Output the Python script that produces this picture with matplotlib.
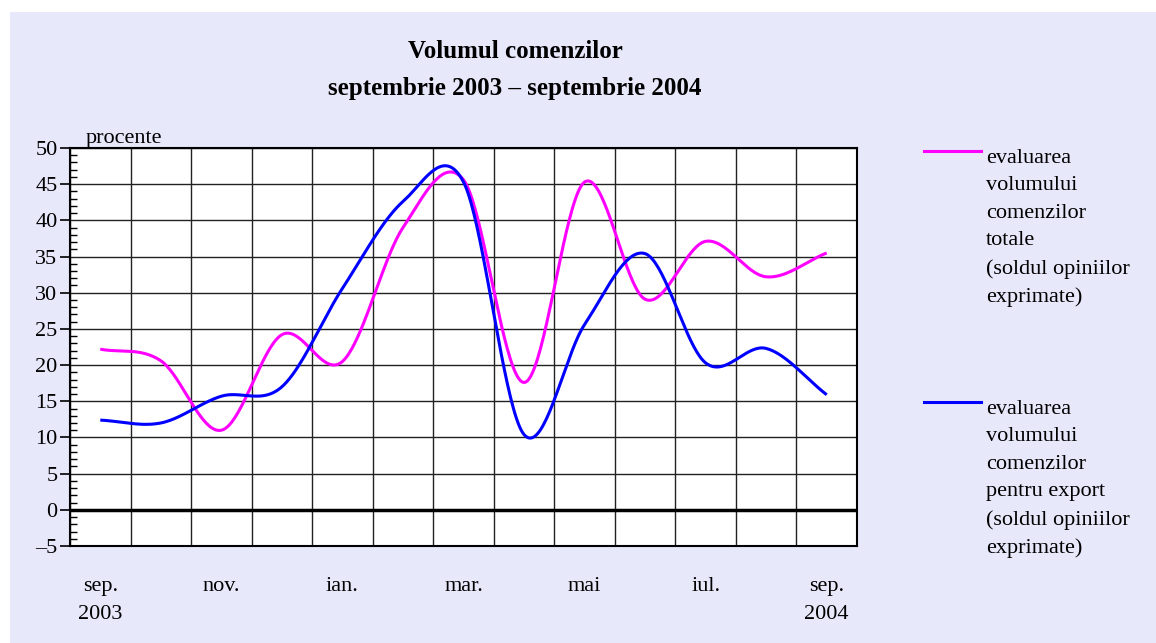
import numpy as np
import matplotlib
matplotlib.use("Agg")
import matplotlib.pyplot as plt
from matplotlib.lines import Line2D
from matplotlib.patches import Rectangle

months = ["sep.\n2003", "oct.", "nov.", "dec.", "ian.", "feb.", "mar.", "apr.", "mai", "iun.", "iul.", "aug.", "sep.\n2004"]
tick_labels = ["sep.\n2003", "nov.", "ian.", "mar.", "mai", "iul.", "sep.\n2004"]
totale = [22.2, 20.6, 11.0, 24.2, 20.5, 39.0, 45.6, 17.6, 45.3, 29.1, 37.1, 32.2, 35.5]
export = [12.4, 12.0, 15.7, 17.0, 30.6, 42.6, 45.3, 10.4, 25.6, 35.4, 20.3, 22.3, 15.9]
label_totale = "evaluarea\nvolumului\ncomenzilor\ntotale\n(soldul opiniilor\nexprimate)"
label_export = "evaluarea\nvolumului\ncomenzilor\npentru export\n(soldul opiniilor\nexprimate)"

plt.rcParams['font.family'] = ['Liberation Serif', 'DejaVu Serif']


def smooth(y, n=40):
    y = np.asarray(y, float)
    x = np.arange(len(y), dtype=float)
    yp = np.concatenate([[2 * y[0] - y[1]], y, [2 * y[-1] - y[-2]]])
    xs, ys = [], []
    for i in range(len(y) - 1):
        p0, p1, p2, p3 = yp[i], yp[i + 1], yp[i + 2], yp[i + 3]
        t = np.linspace(0, 1, n, endpoint=(i == len(y) - 2))
        m1 = (p2 - p0) / 2
        m2 = (p3 - p1) / 2
        h00 = 2 * t**3 - 3 * t**2 + 1
        h10 = t**3 - 2 * t**2 + t
        h01 = -2 * t**3 + 3 * t**2
        h11 = t**3 - t**2
        xs.append(x[i] + t)
        ys.append(h00 * p1 + h10 * m1 + h01 * p2 + h11 * m2)
    return np.concatenate(xs), np.concatenate(ys)


W, H = 1156, 643
fig = plt.figure(figsize=(W / 100, H / 100), dpi=100)
fig.patch.set_facecolor('white')
fig.patches.append(Rectangle((10 / W, 0), 1 - 10 / W, 1 - 12 / H, transform=fig.transFigure,
                             facecolor='#E8E8FB', edgecolor='none', zorder=-10))

ax = fig.add_axes([70 / W, (H - 546) / H, 787 / W, 398 / H])
ax.set_facecolor('white')

x = np.arange(len(months))
for k in range(len(months) + 1):
    ax.axvline(k - 0.5, color='#222222', lw=1.0, zorder=1)
for v in range(-5, 51, 5):
    ax.axhline(v, color='#222222', lw=1.0, zorder=1)
ax.axhline(0, color='black', lw=2.5, zorder=2)

xs, ys = smooth(totale)
ax.plot(xs, ys, color='#FF00FF', lw=2.2, zorder=3, solid_capstyle='butt')
xs, ys = smooth(export)
ax.plot(xs, ys, color='#0000FF', lw=2.2, zorder=4, solid_capstyle='butt')

ax.set_xlim(-0.5, len(months) - 0.5)
ax.set_ylim(-5, 50)
ax.set_yticks(range(-5, 51, 5))
ax.set_yticklabels([("\u2013" + str(-v)) if v < 0 else str(v) for v in range(-5, 51, 5)], fontsize=16)
ax.set_yticks(np.arange(-5, 51, 1), minor=True)
ax.tick_params(axis='y', which='major', direction='out', length=7, width=1.2, pad=2)
ax.tick_params(axis='y', which='minor', direction='in', length=5, width=1.0)
ax.set_xticks(x[::2])
ax.set_xticklabels(tick_labels, fontsize=16, linespacing=1.65, va='top')
ax.tick_params(axis='x', which='both', length=0, pad=22)
for s in ax.spines.values():
    s.set_linewidth(1.5)
    s.set_color('black')

ax.text(0.02, 1.0, "procente", transform=ax.transAxes, fontsize=16, ha='left', va='bottom')

fig.text(515 / W, 1 - 52 / H, "Volumul comenzilor", fontsize=18, fontweight='bold', ha='center', va='center')
fig.text(515 / W, 1 - 88 / H, "septembrie 2003 \u2013 septembrie 2004", fontsize=18, fontweight='bold', ha='center', va='center')

for (ly, col, txt) in [(151, '#FF00FF', label_totale), (402, '#0000FF', label_export)]:
    fig.add_artist(Line2D([924 / W, 981 / W], [1 - ly / H, 1 - ly / H], color=col, lw=2.2,
                          transform=fig.transFigure))
    fig.text(986 / W, 1 - (ly - 2) / H, txt, fontsize=16, ha='left', va='top', linespacing=1.6)

fig.savefig("out.png", dpi=100)
